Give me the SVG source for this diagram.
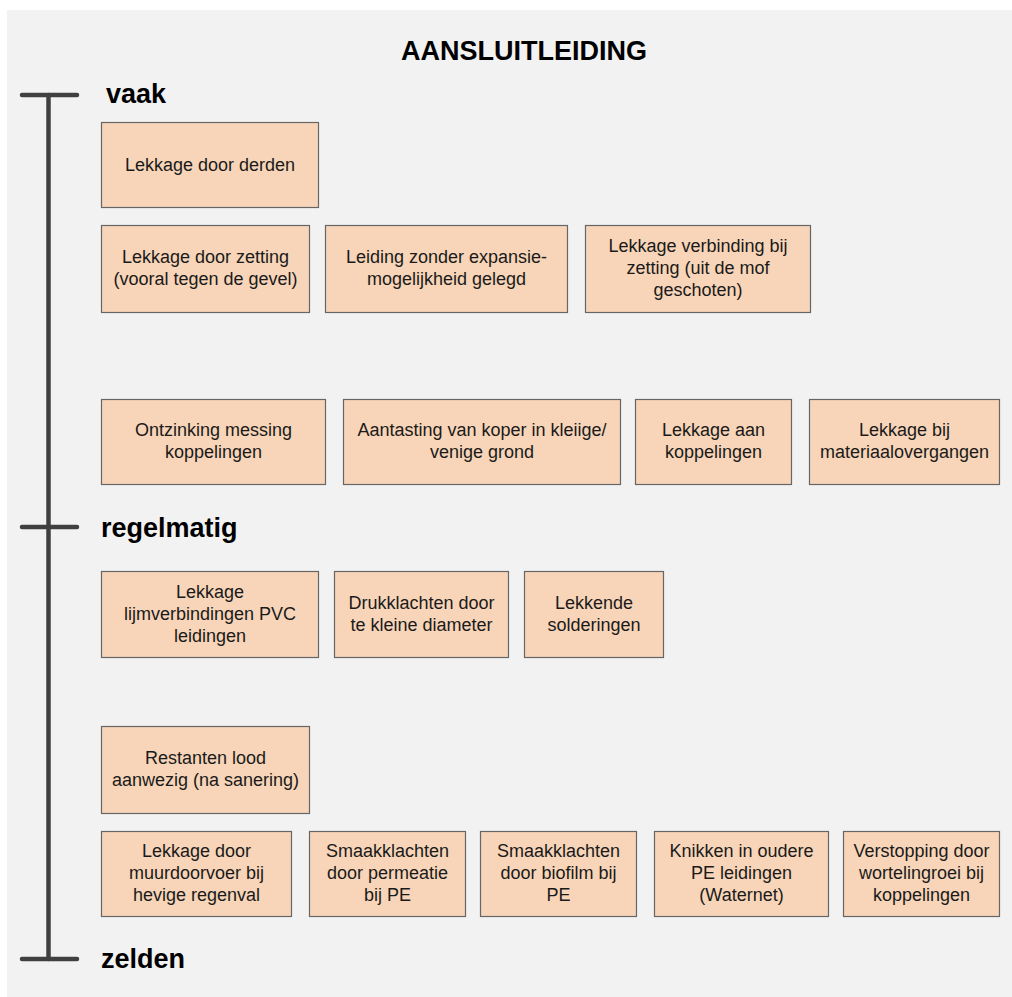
<svg xmlns="http://www.w3.org/2000/svg" width="1012" height="997" viewBox="0 0 1012 997">
<style>
.bg{fill:#f2f2f2}
.box{fill:#f8d5b8;stroke:#666;stroke-width:1.2}
.t{font-family:"Liberation Sans",Arial,sans-serif;font-size:18px;fill:#1a1a1a;text-anchor:middle}
.lvl{font-family:"Liberation Sans",Arial,sans-serif;font-size:27px;font-weight:bold;fill:#000}
.title{font-family:"Liberation Sans",Arial,sans-serif;font-size:27px;font-weight:bold;fill:#000;text-anchor:middle}
.axis{stroke:#404040;stroke-width:4.5;stroke-linecap:round;fill:none}
</style>
<rect class="bg" x="7" y="10" width="1005" height="987"/>
<text class="title" x="524" y="60">AANSLUITLEIDING</text>
<g id="axis">
<line class="axis" x1="48.5" y1="95" x2="48.5" y2="959"/>
<line class="axis" x1="22" y1="95" x2="77" y2="95"/>
<line class="axis" x1="22" y1="527" x2="77" y2="527"/>
<line class="axis" x1="22" y1="959" x2="77" y2="959"/>
<text class="lvl" x="106" y="103">vaak</text>
<text class="lvl" x="101" y="537">regelmatig</text>
<text class="lvl" x="101" y="968">zelden</text>
</g>
<g id="connectors"></g>
<g id="n1"><rect class="box" x="101.5" y="122.5" width="217" height="85"/><text class="t" x="210" y="170.5">Lekkage door derden</text></g>
<g id="n2"><rect class="box" x="101.5" y="225.5" width="208" height="87"/><text class="t" x="205.5" y="263">Lekkage door zetting</text><text class="t" x="205.5" y="285">(vooral tegen de gevel)</text></g>
<g id="n3"><rect class="box" x="325.5" y="225.5" width="242" height="87"/><text class="t" x="446.5" y="263">Leiding zonder expansie-</text><text class="t" x="446.5" y="285">mogelijkheid gelegd</text></g>
<g id="n4"><rect class="box" x="585.5" y="225.5" width="225" height="87"/><text class="t" x="698" y="252">Lekkage verbinding bij</text><text class="t" x="698" y="274">zetting (uit de mof</text><text class="t" x="698" y="296">geschoten)</text></g>
<g id="n5"><rect class="box" x="101.5" y="399.5" width="224" height="85"/><text class="t" x="213.5" y="436">Ontzinking messing</text><text class="t" x="213.5" y="458">koppelingen</text></g>
<g id="n6"><rect class="box" x="343.5" y="399.5" width="277" height="85"/><text class="t" x="482" y="436">Aantasting van koper in kleiige/</text><text class="t" x="482" y="458">venige grond</text></g>
<g id="n7"><rect class="box" x="635.5" y="399.5" width="156" height="85"/><text class="t" x="713.5" y="436">Lekkage aan</text><text class="t" x="713.5" y="458">koppelingen</text></g>
<g id="n8"><rect class="box" x="809.5" y="399.5" width="190" height="85"/><text class="t" x="904.5" y="436">Lekkage bij</text><text class="t" x="904.5" y="458">materiaalovergangen</text></g>
<g id="n9"><rect class="box" x="101.5" y="571.5" width="217" height="86"/><text class="t" x="210" y="598">Lekkage</text><text class="t" x="210" y="620">lijmverbindingen PVC</text><text class="t" x="210" y="642">leidingen</text></g>
<g id="n10"><rect class="box" x="334.5" y="571.5" width="174" height="86"/><text class="t" x="421.5" y="609">Drukklachten door</text><text class="t" x="421.5" y="631">te kleine diameter</text></g>
<g id="n11"><rect class="box" x="524.5" y="571.5" width="139" height="86"/><text class="t" x="594" y="609">Lekkende</text><text class="t" x="594" y="631">solderingen</text></g>
<g id="n12"><rect class="box" x="101.5" y="726.5" width="208" height="87"/><text class="t" x="205.5" y="764">Restanten lood</text><text class="t" x="205.5" y="786">aanwezig (na sanering)</text></g>
<g id="n13"><rect class="box" x="101.5" y="831.5" width="190" height="85"/><text class="t" x="196.5" y="857">Lekkage door</text><text class="t" x="196.5" y="879">muurdoorvoer bij</text><text class="t" x="196.5" y="901">hevige regenval</text></g>
<g id="n14"><rect class="box" x="309.5" y="831.5" width="156" height="85"/><text class="t" x="387.5" y="857">Smaakklachten</text><text class="t" x="387.5" y="879">door permeatie</text><text class="t" x="387.5" y="901">bij PE</text></g>
<g id="n15"><rect class="box" x="480.5" y="831.5" width="156" height="85"/><text class="t" x="558.5" y="857">Smaakklachten</text><text class="t" x="558.5" y="879">door biofilm bij</text><text class="t" x="558.5" y="901">PE</text></g>
<g id="n16"><rect class="box" x="654.5" y="831.5" width="174" height="85"/><text class="t" x="741.5" y="857">Knikken in oudere</text><text class="t" x="741.5" y="879">PE leidingen</text><text class="t" x="741.5" y="901">(Waternet)</text></g>
<g id="n17"><rect class="box" x="843.5" y="831.5" width="156" height="85"/><text class="t" x="921.5" y="857">Verstopping door</text><text class="t" x="921.5" y="879">wortelingroei bij</text><text class="t" x="921.5" y="901">koppelingen</text></g>
</svg>
